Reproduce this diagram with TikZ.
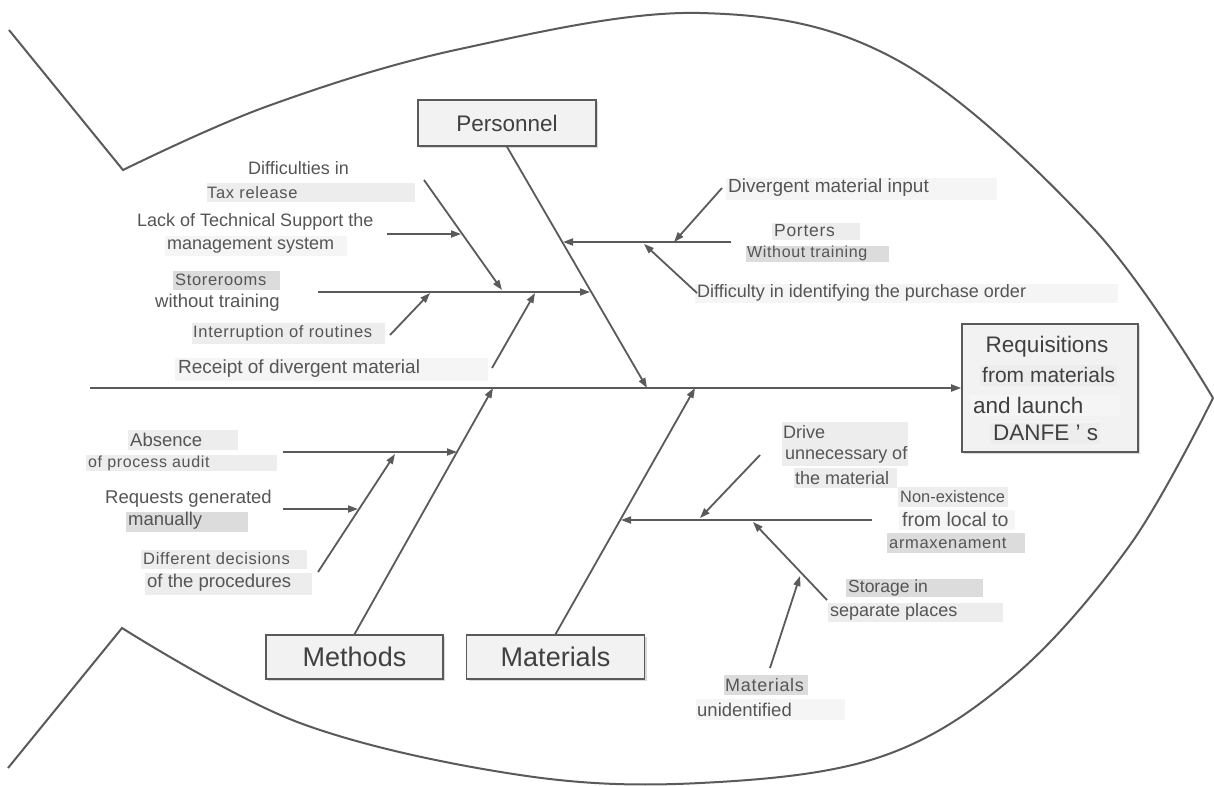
\documentclass[tikz,border=0pt]{standalone}
\usepackage{fontspec}
\setmainfont{Liberation Sans}
\newfontfamily\spc{Liberation Sans}[LetterSpace=4]
\usetikzlibrary{arrows.meta,shadows}
\definecolor{lc}{HTML}{5A5A5A}
\definecolor{tc}{HTML}{555555}
\definecolor{tcb}{HTML}{404040}
\definecolor{boxfill}{HTML}{F2F2F2}
\definecolor{hlA}{HTML}{EDEDED}
\definecolor{hlB}{HTML}{DCDCDC}
\definecolor{hlC}{HTML}{F5F5F5}
\tikzset{
  fishline/.style={draw=lc, line width=2pt, line join=miter},
  bone/.style={draw=lc, line width=1.8pt, -{Triangle[length=10pt,width=7pt]}},
  lbl/.style={anchor=west, inner sep=0pt, text=tc, font=\fontsize{18}{20}\selectfont},
  slbl/.style={anchor=west, inner sep=0pt, text=tc, font=\spc\fontsize{16.5}{18}\selectfont},
  catbox/.style={draw=lc, line width=1.6pt, fill=boxfill, text=tcb, inner sep=0pt,
    drop shadow={shadow xshift=2pt, shadow yshift=-2pt, fill=black, opacity=0.15}},
}
\begin{document}
\begin{tikzpicture}[x=1pt,y=-1pt]
\useasboundingbox (0,0) rectangle (1214,785);
\fill[white] (0,0) rectangle (1214,785);

% fish outline
\draw[fishline] (9,30) -- plot[smooth, tension=0.6] coordinates {(123,170) (268,106) (460,49) (700,13) (897,60) (1093,228) (1213,398)};
\draw[fishline] plot[smooth, tension=0.6] coordinates {(1213,398) (1130,545) (1013,677) (880,757) (700,783) (520,775) (300,723) (122,628)} -- (8,768);

% text highlights
\fill[hlA] (207,183) rectangle (415,202);
\fill[hlC] (165,236) rectangle (347,256);
\fill[hlB] (173,271) rectangle (280,290);
\fill[hlA] (192,323) rectangle (385,344);
\fill[hlC] (175,358) rectangle (488,381);
\fill[hlC] (726,178) rectangle (997,200);
\fill[hlA] (772,223) rectangle (860,240);
\fill[hlB] (746,246) rectangle (889,262);
\fill[hlC] (695,284) rectangle (1118,303);
\fill[hlA] (128,430) rectangle (238,450);
\fill[hlA] (86,455) rectangle (277,471);
\fill[hlB] (126,512) rectangle (248,532);
\fill[hlA] (141,550) rectangle (307,569);
\fill[hlA] (145,573) rectangle (312,595);
\fill[hlA] (782,422) rectangle (908,466);
\fill[hlA] (794,468) rectangle (897,488);
\fill[hlA] (898,487) rectangle (1008,507);
\fill[hlC] (899,510) rectangle (1015,530);
\fill[hlB] (887,533) rectangle (1025,553);
\fill[hlB] (846,579) rectangle (983,597);
\fill[hlA] (828,603) rectangle (1003,622);
\fill[hlB] (724,675) rectangle (808,695);
\fill[hlC] (696,699) rectangle (845,720);

% category boxes
\node[catbox, minimum width=178pt, minimum height=46pt, font=\fontsize{22.5}{24}\selectfont] (pers) at (507,123) {Personnel};
\node[catbox, minimum width=177pt, minimum height=44pt, font=\fontsize{27}{29}\selectfont] (meth) at (354.5,657) {Methods};
\node[catbox, minimum width=178pt, minimum height=44pt, font=\fontsize{27}{29}\selectfont] (mat) at (555.5,657) {Materials};
\node[catbox, minimum width=176pt, minimum height=128pt] (req) at (1050,388) {};
\fill[hlA] (980,365) rectangle (1117,386);
\fill[hlC] (970,395) rectangle (1120,416);
\fill[hlA] (990,423) rectangle (1100,444);
\node[anchor=center, inner sep=0pt, text=tcb, font=\fontsize{22.5}{24}\selectfont] (r1) at (1047,347) {Requisitions};
\node[anchor=west, inner sep=0pt, text=tcb, font=\fontsize{21}{23}\selectfont] (r2) at (982,375) {from materials};
\node[anchor=west, inner sep=0pt, text=tcb, font=\fontsize{22.5}{24}\selectfont] (r3) at (973,405) {and launch};
\node[anchor=west, inner sep=0pt, text=tcb, font=\fontsize{22.5}{24}\selectfont] (r4) at (993,433) {DANFE ' s};

% spine
\coordinate (tail) at (90,388);
\draw[bone] (tail) -- (req.west);

% main bones
\coordinate (pT) at (647,388);
\coordinate (mT) at (493,388);
\coordinate (aT) at (695,388);
\draw[bone] (pers.south) -- (pT);
\draw[bone] (meth.north) -- (mT);
\draw[bone] (mat.north) -- (aT);

% Personnel sub-bones
\coordinate (pr0) at (731,242); \coordinate (pr1) at (563,242);
\draw[bone] (pr0) -- (pr1);
\coordinate (dv0) at (722,188); \coordinate (dv1) at (674,242);
\draw[bone] (dv0) -- (dv1);
\coordinate (df0) at (697,293); \coordinate (df1) at (644,244);
\draw[bone] (df0) -- (df1);
\coordinate (pl0) at (318,292); \coordinate (pl1) at (590,292);
\draw[bone] (pl0) -- (pl1);
\coordinate (tx0) at (424,180); \coordinate (tx1) at (502,290);
\draw[bone] (tx0) -- (tx1);
\coordinate (lk0) at (387,234); \coordinate (lk1) at (461,234);
\draw[bone] (lk0) -- (lk1);
\coordinate (ir0) at (390,335); \coordinate (ir1) at (430,293);
\draw[bone] (ir0) -- (ir1);
\coordinate (rc0) at (492,368); \coordinate (rc1) at (535,293);
\draw[bone] (rc0) -- (rc1);

% Methods sub-bones
\coordinate (ab0) at (283,452); \coordinate (ab1) at (457,452);
\draw[bone] (ab0) -- (ab1);
\coordinate (dd0) at (318,572); \coordinate (dd1) at (395,454);
\draw[bone] (dd0) -- (dd1);
\coordinate (rq0) at (283,509); \coordinate (rq1) at (358,509);
\draw[bone] (rq0) -- (rq1);

% Materials sub-bones
\coordinate (ml0) at (872,520); \coordinate (ml1) at (621,520);
\draw[bone] (ml0) -- (ml1);
\coordinate (dr0) at (760,455); \coordinate (dr1) at (700,518);
\draw[bone] (dr0) -- (dr1);
\coordinate (st0) at (827,600); \coordinate (st1) at (753,522);
\draw[bone] (st0) -- (st1);
\coordinate (mu0) at (770,668); \coordinate (mu1) at (800,576);
\draw[bone] (mu0) -- (mu1);

% labels - Personnel
\node[lbl] (l1) at (248,168) {Difficulties in};
\node[slbl] (l2) at (207,193) {Tax release};
\node[lbl] (l3) at (137,222) {Lack of Technical Support the};
\node[lbl] (l4) at (167,246) {management system};
\node[slbl] (l5) at (175,280) {Storerooms};
\node[lbl, font=\fontsize{18.5}{20}\selectfont] (l6) at (155,303) {without training};
\node[slbl] (l7) at (193,333) {Interruption of routines};
\node[lbl, font=\fontsize{19}{21}\selectfont] (l8) at (178,369) {Receipt of divergent material};
\node[lbl, font=\fontsize{19}{21}\selectfont] (l9) at (728,188) {Divergent material input};
\node[slbl, font=\spc\fontsize{17.5}{19}\selectfont] (l10) at (774,231) {Porters};
\node[slbl, font=\spc\fontsize{16}{18}\selectfont] (l11) at (747,253) {Without training};
\node[lbl] (l12) at (697,293) {Difficulty in identifying the purchase order};

% labels - Methods
\node[lbl, font=\fontsize{18.5}{20}\selectfont] (m1) at (130,440) {Absence};
\node[slbl, font=\spc\fontsize{16}{18}\selectfont] (m2) at (88,463) {of process audit};
\node[lbl, font=\fontsize{18.5}{20}\selectfont] (m3) at (105,499) {Requests generated};
\node[lbl, font=\fontsize{18.5}{20}\selectfont] (m4) at (128,521) {manually};
\node[slbl] (m5) at (143,559) {Different decisions};
\node[lbl, font=\fontsize{18.5}{20}\selectfont] (m6) at (147,583) {of the procedures};

% labels - Materials
\node[lbl] (a1) at (783,432) {Drive};
\node[lbl] (a2) at (785,455) {unnecessary of};
\node[lbl] (a3) at (795,478) {the material};
\node[lbl, font=\fontsize{16.4}{18}\selectfont] (a4) at (900,497) {Non-existence};
\node[lbl, font=\fontsize{19.5}{21}\selectfont] (a5) at (902,520) {from local to};
\node[slbl] (a6) at (889,543) {armaxenament};
\node[lbl, font=\fontsize{17.5}{19}\selectfont] (a7) at (848,588) {Storage in};
\node[lbl] (a8) at (830,612) {separate places};
\node[slbl, font=\spc\fontsize{18}{20}\selectfont] (a9) at (725,685) {Materials};
\node[lbl, font=\fontsize{18.5}{20}\selectfont] (a10) at (697,710) {unidentified};
\end{tikzpicture}
\end{document}
